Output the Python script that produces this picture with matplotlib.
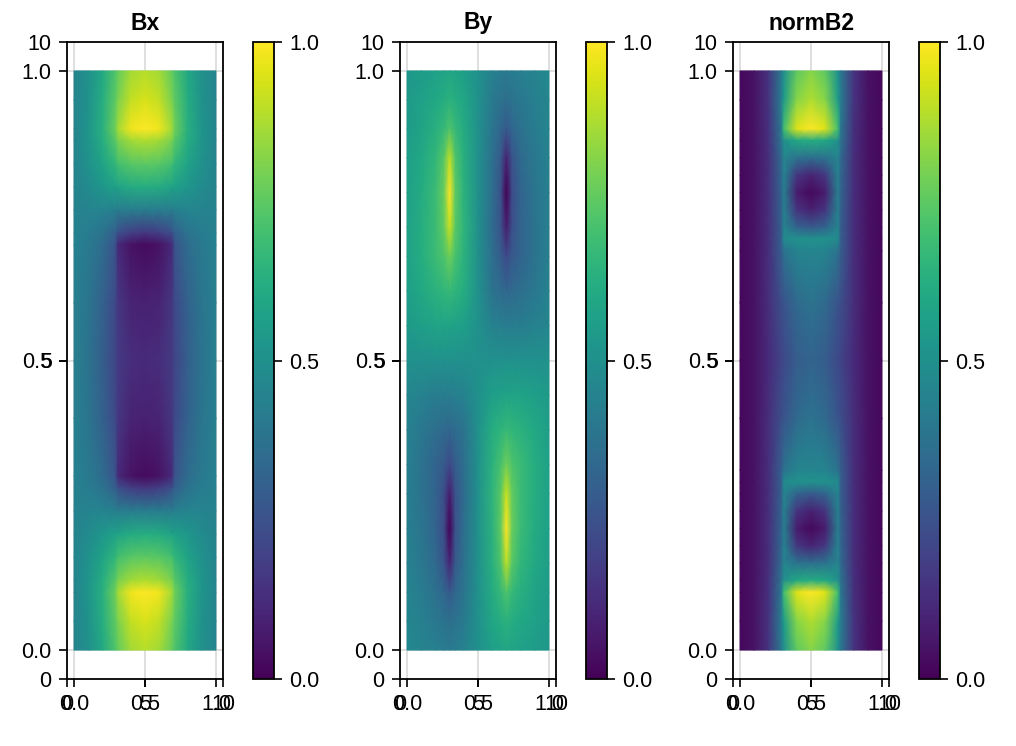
import numpy as np
import matplotlib.pyplot as plt

plt.rcParams['font.family'] = ['Liberation Sans', 'DejaVu Sans']

# ---- data (rows go from y=1 down to y=0) ----
bx_x = [0, 0.1, 0.2, 0.29, 0.31, 0.4, 0.5, 0.6, 0.69, 0.71, 0.8, 0.9, 1.0]
bx_y = [1.0, 0.95, 0.9, 0.88, 0.84, 0.8, 0.76, 0.72, 0.7, 0.6, 0.5,
        0.4, 0.3, 0.28, 0.24, 0.2, 0.16, 0.12, 0.1, 0.05, 0.0]
bx_vals = [
    [0.45, 0.50, 0.60, 0.72, 0.76, 0.86, 0.89, 0.86, 0.76, 0.72, 0.60, 0.50, 0.45],
    [0.45, 0.51, 0.62, 0.75, 0.80, 0.91, 0.94, 0.91, 0.80, 0.75, 0.62, 0.51, 0.45],
    [0.45, 0.52, 0.63, 0.78, 0.86, 0.98, 1.00, 0.98, 0.86, 0.78, 0.63, 0.52, 0.45],
    [0.45, 0.52, 0.62, 0.74, 0.80, 0.86, 0.88, 0.86, 0.80, 0.74, 0.62, 0.52, 0.45],
    [0.45, 0.50, 0.58, 0.66, 0.70, 0.74, 0.75, 0.74, 0.70, 0.66, 0.58, 0.50, 0.45],
    [0.45, 0.48, 0.53, 0.57, 0.58, 0.61, 0.62, 0.61, 0.58, 0.57, 0.53, 0.48, 0.45],
    [0.44, 0.45, 0.45, 0.43, 0.42, 0.42, 0.42, 0.42, 0.42, 0.43, 0.45, 0.45, 0.44],
    [0.44, 0.42, 0.38, 0.30, 0.24, 0.18, 0.16, 0.18, 0.24, 0.30, 0.38, 0.42, 0.44],
    [0.44, 0.41, 0.35, 0.26, 0.12, 0.05, 0.03, 0.05, 0.12, 0.26, 0.35, 0.41, 0.44],
    [0.43, 0.39, 0.31, 0.22, 0.16, 0.10, 0.09, 0.10, 0.16, 0.22, 0.31, 0.39, 0.43],
    [0.43, 0.38, 0.30, 0.21, 0.17, 0.13, 0.12, 0.13, 0.17, 0.21, 0.30, 0.38, 0.43],
    [0.43, 0.39, 0.31, 0.22, 0.16, 0.10, 0.09, 0.10, 0.16, 0.22, 0.31, 0.39, 0.43],
    [0.44, 0.41, 0.35, 0.26, 0.12, 0.05, 0.03, 0.05, 0.12, 0.26, 0.35, 0.41, 0.44],
    [0.44, 0.42, 0.38, 0.30, 0.24, 0.18, 0.16, 0.18, 0.24, 0.30, 0.38, 0.42, 0.44],
    [0.44, 0.45, 0.45, 0.43, 0.42, 0.42, 0.42, 0.42, 0.42, 0.43, 0.45, 0.45, 0.44],
    [0.45, 0.48, 0.53, 0.57, 0.58, 0.61, 0.62, 0.61, 0.58, 0.57, 0.53, 0.48, 0.45],
    [0.45, 0.50, 0.58, 0.66, 0.70, 0.74, 0.75, 0.74, 0.70, 0.66, 0.58, 0.50, 0.45],
    [0.45, 0.52, 0.62, 0.74, 0.80, 0.86, 0.88, 0.86, 0.80, 0.74, 0.62, 0.52, 0.45],
    [0.45, 0.52, 0.63, 0.78, 0.86, 0.98, 1.00, 0.98, 0.86, 0.78, 0.63, 0.52, 0.45],
    [0.45, 0.51, 0.62, 0.75, 0.80, 0.91, 0.94, 0.91, 0.80, 0.75, 0.62, 0.51, 0.45],
    [0.45, 0.50, 0.60, 0.72, 0.76, 0.86, 0.89, 0.86, 0.76, 0.72, 0.60, 0.50, 0.45],
]

by_x = [0, 0.1, 0.2, 0.26, 0.3, 0.34, 0.4, 0.5, 0.6, 0.66, 0.7, 0.74, 0.8, 0.9, 1.0]
by_y = [1.0, 0.95, 0.9, 0.85, 0.79, 0.73, 0.68, 0.62, 0.56, 0.5,
        0.44, 0.38, 0.32, 0.27, 0.21, 0.15, 0.1, 0.05, 0.0]
by_vals = [
    [0.53, 0.55, 0.57, 0.58, 0.59, 0.58, 0.56, 0.50, 0.44, 0.42, 0.41, 0.42, 0.43, 0.45, 0.47],
    [0.54, 0.57, 0.60, 0.62, 0.64, 0.62, 0.59, 0.50, 0.41, 0.38, 0.36, 0.38, 0.40, 0.43, 0.46],
    [0.55, 0.58, 0.63, 0.67, 0.72, 0.67, 0.61, 0.50, 0.39, 0.33, 0.28, 0.33, 0.37, 0.42, 0.45],
    [0.56, 0.60, 0.66, 0.74, 0.90, 0.72, 0.63, 0.50, 0.37, 0.28, 0.10, 0.26, 0.34, 0.40, 0.44],
    [0.57, 0.61, 0.68, 0.77, 1.00, 0.75, 0.64, 0.50, 0.36, 0.25, 0.00, 0.23, 0.32, 0.39, 0.43],
    [0.57, 0.62, 0.68, 0.76, 0.92, 0.74, 0.65, 0.50, 0.35, 0.26, 0.08, 0.24, 0.32, 0.38, 0.43],
    [0.57, 0.62, 0.68, 0.72, 0.78, 0.71, 0.64, 0.50, 0.36, 0.29, 0.22, 0.28, 0.32, 0.38, 0.43],
    [0.56, 0.60, 0.64, 0.66, 0.67, 0.65, 0.62, 0.50, 0.38, 0.35, 0.33, 0.34, 0.36, 0.40, 0.44],
    [0.54, 0.56, 0.58, 0.58, 0.58, 0.57, 0.56, 0.50, 0.44, 0.43, 0.42, 0.42, 0.42, 0.44, 0.46],
    [0.50, 0.50, 0.50, 0.50, 0.50, 0.50, 0.50, 0.50, 0.50, 0.50, 0.50, 0.50, 0.50, 0.50, 0.50],
    [0.46, 0.44, 0.42, 0.42, 0.42, 0.43, 0.44, 0.50, 0.56, 0.57, 0.58, 0.58, 0.58, 0.56, 0.54],
    [0.44, 0.40, 0.36, 0.34, 0.33, 0.35, 0.38, 0.50, 0.62, 0.65, 0.67, 0.66, 0.64, 0.60, 0.56],
    [0.43, 0.38, 0.32, 0.28, 0.22, 0.29, 0.36, 0.50, 0.64, 0.71, 0.78, 0.72, 0.68, 0.62, 0.57],
    [0.43, 0.38, 0.32, 0.24, 0.08, 0.26, 0.35, 0.50, 0.65, 0.74, 0.92, 0.76, 0.68, 0.62, 0.57],
    [0.43, 0.39, 0.32, 0.23, 0.00, 0.25, 0.36, 0.50, 0.64, 0.75, 1.00, 0.77, 0.68, 0.61, 0.57],
    [0.44, 0.40, 0.34, 0.26, 0.10, 0.28, 0.37, 0.50, 0.63, 0.72, 0.90, 0.74, 0.66, 0.60, 0.56],
    [0.45, 0.42, 0.37, 0.33, 0.28, 0.33, 0.39, 0.50, 0.61, 0.67, 0.72, 0.67, 0.63, 0.58, 0.55],
    [0.46, 0.43, 0.40, 0.38, 0.36, 0.38, 0.41, 0.50, 0.59, 0.62, 0.64, 0.62, 0.60, 0.57, 0.54],
    [0.47, 0.45, 0.43, 0.42, 0.41, 0.42, 0.44, 0.50, 0.56, 0.58, 0.59, 0.58, 0.57, 0.55, 0.53],
]

nb_x = [0, 0.1, 0.2, 0.29, 0.31, 0.4, 0.5, 0.6, 0.69, 0.71, 0.8, 0.9, 1.0]
nb_y = [1.0, 0.95, 0.9, 0.88, 0.85, 0.82, 0.79, 0.76, 0.73, 0.71, 0.69, 0.6, 0.5,
        0.4, 0.31, 0.29, 0.27, 0.24, 0.21, 0.18, 0.15, 0.12, 0.1, 0.05, 0.0]
nb_vals = [
    [0.02, 0.05, 0.15, 0.40, 0.50, 0.75, 0.82, 0.75, 0.50, 0.40, 0.15, 0.05, 0.02],
    [0.02, 0.05, 0.15, 0.42, 0.55, 0.82, 0.88, 0.82, 0.55, 0.42, 0.15, 0.05, 0.02],
    [0.02, 0.05, 0.14, 0.40, 0.70, 0.95, 1.00, 0.95, 0.70, 0.40, 0.14, 0.05, 0.02],
    [0.02, 0.05, 0.14, 0.38, 0.50, 0.60, 0.62, 0.60, 0.50, 0.38, 0.14, 0.05, 0.02],
    [0.02, 0.05, 0.13, 0.34, 0.45, 0.38, 0.36, 0.38, 0.45, 0.34, 0.13, 0.05, 0.02],
    [0.02, 0.05, 0.13, 0.33, 0.44, 0.16, 0.10, 0.16, 0.44, 0.33, 0.13, 0.05, 0.02],
    [0.02, 0.05, 0.13, 0.32, 0.42, 0.08, 0.02, 0.08, 0.42, 0.32, 0.13, 0.05, 0.02],
    [0.02, 0.05, 0.13, 0.31, 0.43, 0.15, 0.09, 0.15, 0.43, 0.31, 0.13, 0.05, 0.02],
    [0.02, 0.05, 0.13, 0.30, 0.45, 0.32, 0.28, 0.32, 0.45, 0.30, 0.13, 0.05, 0.02],
    [0.02, 0.05, 0.13, 0.30, 0.48, 0.50, 0.50, 0.50, 0.48, 0.30, 0.13, 0.05, 0.02],
    [0.02, 0.05, 0.13, 0.30, 0.38, 0.45, 0.46, 0.45, 0.38, 0.30, 0.13, 0.05, 0.02],
    [0.02, 0.05, 0.13, 0.24, 0.26, 0.34, 0.38, 0.34, 0.26, 0.24, 0.13, 0.05, 0.02],
    [0.02, 0.05, 0.12, 0.20, 0.22, 0.29, 0.32, 0.29, 0.22, 0.20, 0.12, 0.05, 0.02],
    [0.02, 0.05, 0.13, 0.24, 0.26, 0.34, 0.38, 0.34, 0.26, 0.24, 0.13, 0.05, 0.02],
    [0.02, 0.05, 0.13, 0.30, 0.38, 0.45, 0.46, 0.45, 0.38, 0.30, 0.13, 0.05, 0.02],
    [0.02, 0.05, 0.13, 0.30, 0.48, 0.50, 0.50, 0.50, 0.48, 0.30, 0.13, 0.05, 0.02],
    [0.02, 0.05, 0.13, 0.30, 0.45, 0.32, 0.28, 0.32, 0.45, 0.30, 0.13, 0.05, 0.02],
    [0.02, 0.05, 0.13, 0.31, 0.43, 0.15, 0.09, 0.15, 0.43, 0.31, 0.13, 0.05, 0.02],
    [0.02, 0.05, 0.13, 0.32, 0.42, 0.08, 0.02, 0.08, 0.42, 0.32, 0.13, 0.05, 0.02],
    [0.02, 0.05, 0.13, 0.33, 0.44, 0.16, 0.10, 0.16, 0.44, 0.33, 0.13, 0.05, 0.02],
    [0.02, 0.05, 0.13, 0.34, 0.45, 0.38, 0.36, 0.38, 0.45, 0.34, 0.13, 0.05, 0.02],
    [0.02, 0.05, 0.14, 0.38, 0.50, 0.60, 0.62, 0.60, 0.50, 0.38, 0.14, 0.05, 0.02],
    [0.02, 0.05, 0.14, 0.40, 0.70, 0.95, 1.00, 0.95, 0.70, 0.40, 0.14, 0.05, 0.02],
    [0.02, 0.05, 0.15, 0.42, 0.55, 0.82, 0.88, 0.82, 0.55, 0.42, 0.15, 0.05, 0.02],
    [0.02, 0.05, 0.15, 0.40, 0.50, 0.75, 0.82, 0.75, 0.50, 0.40, 0.15, 0.05, 0.02],
]

titles = ["Bx", "By", "normB2"]
major_ticks = [0.0, 0.5, 1.0]
major_labels = ["0.0", "0.5", "1.0"]
minor_ticks = [-0.05, 0.5, 1.05]
minor_labels = ["0", "5", "10"]
cbar_ticks = [0.0, 0.5, 1.0]
cbar_labels = ["0.0", "0.5", "1.0"]

fs = 15.5
W, H = 1016, 746
fig = plt.figure(figsize=(W / 100, H / 100), dpi=100)


def px_axes(l, t, r, b):
    return fig.add_axes([l / W, 1 - b / H, (r - l) / W, (b - t) / H])


fields = [(bx_x, bx_y, bx_vals), (by_x, by_y, by_vals), (nb_x, nb_y, nb_vals)]
for i, (name, (fx, fy, fv)) in enumerate(zip(titles, fields)):
    off = 333 * i
    ax = px_axes(67 + off, 42, 223 + off, 679)
    cax = px_axes(253 + off, 42, 274 + off, 679)

    ax.set_axisbelow(True)
    ax.grid(True, which='major', color='#d9d9d9', lw=1.2)
    mesh = ax.pcolormesh(fx, fy, np.array(fv), shading='gouraud',
                         cmap='viridis', vmin=0, vmax=1, zorder=2)
    ax.set_xlim(-0.05, 1.05)
    ax.set_ylim(-0.05, 1.05)

    # two overlapping sets of tick labels, as in the original
    for axis in (ax.xaxis, ax.yaxis):
        axis.remove_overlapping_locs = False
        axis.set_ticks(major_ticks, major_labels)
        axis.set_ticks(minor_ticks, minor_labels, minor=True)
    ax.tick_params(which='both', direction='out', length=6, width=1.2,
                   labelsize=fs, pad=5)
    for s in ax.spines.values():
        s.set_linewidth(1.3)
    ax.set_title(name, fontweight='bold', fontsize=16.5, pad=9)

    cb = fig.colorbar(mesh, cax=cax, ticks=cbar_ticks)
    cb.ax.set_yticklabels(cbar_labels)
    cb.outline.set_linewidth(1.3)
    cb.ax.tick_params(direction='out', length=6, width=1.2, labelsize=fs, pad=5)

fig.savefig("out.png", dpi=100)
